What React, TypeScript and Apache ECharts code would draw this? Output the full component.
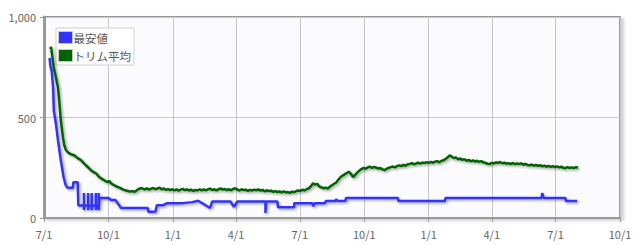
import React, { useEffect, useRef } from "react";
import * as echarts from "echarts";

const seriesNames = ["最安値", "トリム平均"];
const baseDate = [2021, 6, 1];
const axisMin = [2021, 6, 1];
const axisMax = [2023, 9, 1];
const yTicks = [0, 500, 1000];

// [days since 7/1, value]
const lowest: [number, number][] = [
  [8, 797], [9, 760], [11, 732], [13, 648], [14, 535], [17, 470], [20, 386], [24, 287], [28, 203], [31, 163],
  [34, 150], [41, 150], [42, 178], [48, 178], [49, 62], [57, 62], [57, 124], [57, 40], [58, 62],
  [63, 62], [63, 124], [63, 40], [64, 62], [68, 62], [68, 124], [68, 40], [69, 62],
  [74, 62], [74, 124], [74, 40], [75, 62], [78, 62], [78, 124], [78, 40], [79, 99],
  [92, 99], [96, 89], [102, 89], [110, 50], [148, 50], [149, 31], [159, 31], [161, 64], [170, 64],
  [176, 74], [198, 74], [212, 79], [220, 86], [237, 50], [240, 82], [266, 82], [271, 55], [276, 82],
  [316, 82], [316, 25], [317, 82], [333, 82], [334, 53], [357, 53], [357, 73], [383, 73], [384, 59],
  [386, 73], [401, 73], [402, 84], [416, 84], [417, 94], [419, 84], [430, 84], [431, 100], [505, 100],
  [506, 84], [572, 84], [573, 100], [710, 100], [711, 124], [713, 100], [744, 100], [745, 84], [761, 84],
];

const trimmedAvg: [number, number][] = [
  [9, 840], [10, 851], [12, 800], [14, 747], [17, 700], [20, 648], [22, 570], [24, 485], [26, 430], [27, 401],
  [29, 361], [31, 340], [34, 327], [38, 318], [43, 312], [48, 298], [53, 287], [57, 272], [62, 255], [67, 238],
  [71, 228], [75, 220], [78, 206], [81, 198], [85, 190], [88, 183], [91, 178], [93, 185], [96, 172],
  [99, 165], [102, 160], [105, 154], [108, 151], [111, 145], [114, 140], [117, 137], [120, 134], [123, 131],
  [126, 134], [129, 130], [132, 137], [135, 144], [138, 149], [141, 146], [144, 142], [147, 148], [150, 141],
  [153, 146], [156, 149], [159, 143], [162, 147], [165, 151], [168, 142], [171, 147], [174, 140], [177, 144],
  [180, 139], [183, 143], [186, 137], [189, 142], [192, 136], [195, 141], [198, 145], [201, 139], [204, 142],
  [207, 137], [210, 141], [213, 134], [216, 140], [219, 137], [222, 143], [225, 138], [228, 142], [231, 137],
  [234, 143], [237, 146], [240, 139], [243, 143], [246, 138], [249, 142], [252, 147], [255, 141], [258, 144],
  [261, 139], [264, 143], [267, 138], [270, 145], [273, 148], [276, 141], [279, 137], [282, 143], [285, 139],
  [288, 141], [291, 135], [294, 140], [297, 137], [300, 141], [303, 138], [306, 142], [309, 136], [312, 140],
  [315, 133], [318, 138], [321, 134], [324, 136], [327, 130], [330, 134], [333, 129], [336, 132], [339, 128],
  [342, 133], [345, 127], [348, 129], [351, 125], [354, 131], [357, 128], [360, 134], [363, 137], [366, 135],
  [369, 141], [372, 137], [375, 144], [378, 148], [381, 158], [384, 173], [387, 166], [390, 170], [393, 156],
  [396, 152], [399, 148], [402, 151], [405, 146], [408, 156], [411, 163], [414, 170], [417, 177], [420, 190],
  [423, 203], [426, 211], [429, 217], [432, 224], [435, 230], [438, 220], [441, 204], [444, 214], [447, 226],
  [450, 236], [453, 243], [456, 249], [459, 245], [462, 252], [465, 256], [468, 249], [471, 254], [474, 251],
  [477, 246], [480, 249], [483, 242], [486, 238], [489, 245], [492, 249], [495, 253], [498, 256], [501, 252],
  [504, 259], [507, 262], [510, 258], [513, 264], [516, 260], [519, 267], [522, 269], [525, 273], [528, 267],
  [531, 271], [534, 275], [537, 270], [540, 276], [543, 273], [546, 278], [549, 274], [552, 279], [555, 275],
  [558, 280], [561, 283], [564, 277], [567, 284], [570, 287], [573, 293], [576, 302], [579, 312], [582, 305],
  [585, 298], [588, 302], [591, 292], [594, 296], [597, 289], [600, 292], [603, 285], [606, 289], [609, 282],
  [612, 287], [615, 281], [618, 285], [621, 279], [624, 283], [627, 277], [630, 274], [633, 270], [636, 268],
  [639, 275], [642, 271], [645, 277], [648, 274], [651, 279], [654, 272], [657, 275], [660, 270], [663, 273],
  [666, 268], [669, 274], [672, 267], [675, 272], [678, 269], [681, 272], [684, 265], [687, 269], [690, 264],
  [693, 262], [696, 266], [699, 260], [702, 264], [705, 259], [708, 263], [711, 257], [714, 260], [717, 255],
  [720, 259], [723, 254], [726, 258], [729, 253], [732, 257], [735, 252], [738, 255], [741, 250], [744, 248],
  [747, 253], [750, 249], [753, 252], [756, 248], [759, 253], [762, 250],
];

const DAY = 86400000;
const toTime = (d: number) => new Date(baseDate[0], baseDate[1], baseDate[2]).getTime() + d * DAY;

export default function App() {
  const ref = useRef<HTMLDivElement>(null);
  useEffect(() => {
    if (!ref.current) return;
    const chart = echarts.init(ref.current, undefined, { renderer: "svg" });
    const font = "'Noto Sans CJK JP', 'Noto Sans', sans-serif";
    const lineShadow = {
      shadowColor: "rgba(0,0,0,0.35)",
      shadowBlur: 2,
      shadowOffsetX: 1.5,
      shadowOffsetY: 1.5,
    };
    chart.setOption({
      animation: false,
      textStyle: { fontFamily: font },
      grid: {
        left: 44,
        right: 18,
        top: 17,
        bottom: 28,
        show: true,
        backgroundColor: "#fbfbfd",
        borderColor: "#999",
        borderWidth: 2,
        shadowColor: "rgba(0,0,0,0.18)",
        shadowBlur: 3,
        shadowOffsetX: 3,
        shadowOffsetY: 2,
      },
      legend: {
        orient: "vertical",
        left: 56,
        top: 28,
        padding: [3, 3, 3, 2],
        itemGap: 5,
        itemWidth: 14,
        itemHeight: 12,
        icon: "rect",
        backgroundColor: "#ffffff",
        borderColor: "#d0d0d0",
        borderWidth: 1,
        textStyle: { fontSize: 11.5, color: "#555", fontFamily: font, padding: [0, 0, 0, -4] },
        itemStyle: { borderColor: "#c8c8c8", borderWidth: 1 },
        data: seriesNames,
      },
      xAxis: {
        type: "time",
        min: new Date(axisMin[0], axisMin[1], axisMin[2]).getTime(),
        max: new Date(axisMax[0], axisMax[1], axisMax[2]).getTime(),
        minInterval: 88 * DAY,
        maxInterval: 93 * DAY,
        splitNumber: 9,
        axisLine: { show: true, lineStyle: { color: "#999", width: 2 } },
        axisTick: { show: true, length: 4, lineStyle: { color: "#999", width: 1 } },
        axisLabel: {
          color: "#666",
          fontSize: 11,
          margin: 10,
          showMinLabel: true,
          showMaxLabel: true,
          hideOverlap: false,
          formatter: (v: number) => {
            const d = new Date(v);
            return `${d.getMonth() + 1}/${d.getDate()}`;
          },
        },
        splitLine: { show: true, lineStyle: { color: "#c8c8c8", width: 1 } },
      },
      yAxis: {
        type: "value",
        min: yTicks[0],
        max: yTicks[yTicks.length - 1],
        interval: yTicks[1] - yTicks[0],
        axisLine: { show: true, lineStyle: { color: "#999", width: 3 } },
        axisTick: { show: true, length: 4, lineStyle: { color: "#999", width: 1 } },
        axisLabel: {
          color: "#666",
          fontSize: 11,
          margin: 8,
          formatter: (v: number) => v.toLocaleString("en-US"),
        },
        splitLine: { show: true, lineStyle: { color: "#c8c8c8", width: 1 } },
      },
      series: [
        {
          name: seriesNames[0],
          type: "line",
          showSymbol: false,
          symbol: "none",
          color: "#3333ff",
          lineStyle: { color: "#3333ff", width: 2.5, ...lineShadow },
          data: lowest.map(([d, v]) => [toTime(d), v]),
          z: 3,
        },
        {
          name: seriesNames[1],
          type: "line",
          showSymbol: false,
          symbol: "none",
          color: "#006400",
          lineStyle: { color: "#006400", width: 2.5, ...lineShadow },
          data: trimmedAvg.map(([d, v]) => [toTime(d), v]),
          z: 4,
        },
      ],
    });
    return () => chart.dispose();
  }, []);
  return <div ref={ref} style={{ width: 638, height: 246, position: "absolute", left: 0, top: 0 }} />;
}
